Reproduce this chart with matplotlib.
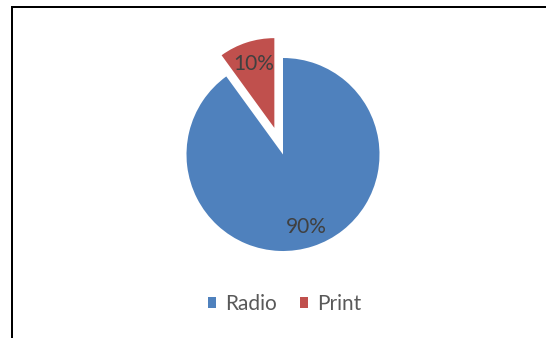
import matplotlib
matplotlib.use("Agg")
import matplotlib.pyplot as plt
import numpy as np
from matplotlib.patches import Rectangle
from matplotlib.lines import Line2D

categories = ["Radio", "Print"]
values = [90, 10]
colors = ["#4F81BD", "#C0504D"]
explode = [0.0, 0.29]
wedge_scale = [1.0, 0.93]
label_dist = [0.79, 0.70]

W, H = 546, 338
fig = plt.figure(figsize=(W / 100, H / 100), dpi=100)
fig.patch.set_facecolor("white")

font = ["Lato", "DejaVu Sans"]

# pie axes: centre (283,154) px from top, radius 96.5 px
cx, cy, r = 283, 154.5, 96.5
ax = fig.add_axes([(cx - r) / W, (H - cy - r) / H, 2 * r / W, 2 * r / H])
wedges, texts, autotexts = ax.pie(
    values, colors=colors, explode=explode, startangle=90, counterclock=False,
    autopct="%1.0f%%", pctdistance=0.75, radius=1.0,
    wedgeprops=dict(linewidth=0),
    textprops=dict(fontsize=15, color="#404040", family=font),
)
ax.set_xlim(-1, 1)
ax.set_ylim(-1, 1)
ax.set_aspect("equal")
ax.axis("off")
for w, s in zip(wedges, wedge_scale):
    w.set_radius(w.r * s)
    w.set_clip_on(False)
# place percentage labels
total = sum(values)
start = 90.0
for i, (v, t) in enumerate(zip(values, autotexts)):
    ang = start - 360.0 * v / total / 2
    a = np.deg2rad(ang)
    ox, oy = explode[i] * np.cos(a), explode[i] * np.sin(a)
    t.set_position((ox + label_dist[i] * np.cos(a), oy + label_dist[i] * np.sin(a)))
    t.set_clip_on(False)
    start -= 360.0 * v / total

# outer frame (extends off the right and bottom of the image)
lw = 2.0 * 72 / 100
fig.add_artist(Line2D([11.5 / W, 1.0], [1 - 6.5 / H, 1 - 6.5 / H], color="black", lw=lw,
                      transform=fig.transFigure, solid_capstyle="butt"))
fig.add_artist(Line2D([11.5 / W, 11.5 / W], [0.0, 1 - 6.5 / H + 0.002], color="black", lw=lw,
                      transform=fig.transFigure, solid_capstyle="butt"))

handles = [Rectangle((0, 0), 1, 1, facecolor=c, edgecolor="none") for c in colors]
leg = fig.legend(handles, categories, loc="center", bbox_to_anchor=(284.7 / W, 1 - 304 / H),
                 ncol=2, frameon=False, handlelength=0.4, handleheight=0.4,
                 handletextpad=0.42, columnspacing=1.1, borderpad=0,
                 prop=dict(family=font, size=15))
for t in leg.get_texts():
    t.set_color("#595959")

fig.savefig("out.png", dpi=100, facecolor="white")
